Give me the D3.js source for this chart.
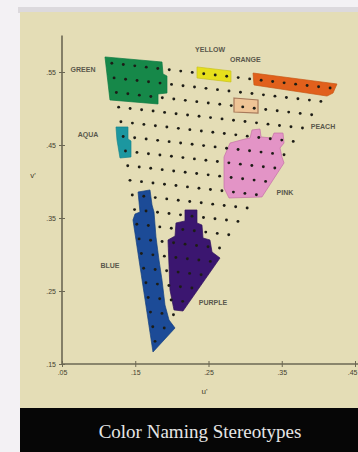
<!DOCTYPE html>
<html>
<head>
<meta charset="utf-8">
<script src="https://cdn.jsdelivr.net/npm/d3@7/dist/d3.min.js"></script>
<style>
  html, body { margin: 0; padding: 0; background: #f3f1f4; }
  svg { display: block; }
</style>
</head>
<body>
<svg id="chart" width="358" height="452"></svg>
<script>
// axis ticks (u', v' chromaticity)
const uTicks = [0.05, 0.15, 0.25, 0.35, 0.45];
const vTicks = [0.15, 0.25, 0.35, 0.45, 0.55];

// monitor primaries in u'v' (corners of the sampled triangle)
const greenPrimary = [0.118, 0.562];
const redPrimary = [0.416, 0.528];
const bluePrimary = [0.177, 0.181];
// the samples form a regular lattice inside the triangle, 19 steps per side
const latticeSteps = 19;

// named regions, outlines in u'v'
const regionNames = ['GREEN', 'YELLOW', 'ORANGE', 'PEACH', 'AQUA', 'PINK', 'BLUE', 'PURPLE'];
const greenArea = [[0.1087, 0.5706], [0.1865, 0.5637], [0.1879, 0.5473], [0.1933, 0.5445], [0.1933, 0.5212],
  [0.1811, 0.5199], [0.1811, 0.5062], [0.1155, 0.5117]];
const yellowArea = [[0.2343, 0.5569], [0.2807, 0.5514], [0.2807, 0.5363], [0.2343, 0.5418]];
const orangeArea = [[0.3108, 0.5486], [0.4254, 0.5336], [0.4200, 0.5212], [0.4118, 0.5171], [0.3121, 0.5322]];
const peachArea = [[0.2848, 0.5144], [0.3176, 0.5117], [0.3176, 0.4938], [0.2848, 0.4952]];
const aquaArea = [[0.1237, 0.4747], [0.1401, 0.4747], [0.1401, 0.4582], [0.1442, 0.4555], [0.1442, 0.4336],
  [0.1292, 0.4322], [0.1251, 0.4569]];
const pinkArea = [[0.2753, 0.4432], [0.2794, 0.4527], [0.2998, 0.4582], [0.3067, 0.4596], [0.3094, 0.4706],
  [0.3203, 0.4719], [0.3217, 0.4610], [0.3367, 0.4596], [0.3394, 0.4664], [0.3517, 0.4664], [0.3531, 0.4527],
  [0.3476, 0.4459], [0.3503, 0.4336], [0.3531, 0.4254], [0.3230, 0.3788], [0.2780, 0.3774], [0.2712, 0.3911],
  [0.2712, 0.4336]];
const blueArea = [[0.1538, 0.3856], [0.1701, 0.3884], [0.1729, 0.3678], [0.1756, 0.3582], [0.1783, 0.3240],
  [0.1824, 0.2925], [0.1865, 0.2651], [0.1906, 0.2308], [0.1961, 0.2103], [0.2043, 0.1993], [0.1742, 0.1664],
  [0.1469, 0.3473], [0.1497, 0.3555], [0.1565, 0.3582]];
const purpleArea = [[0.2179, 0.3610], [0.2343, 0.3610], [0.2343, 0.3432], [0.2411, 0.3404], [0.2425, 0.3226],
  [0.2520, 0.3199], [0.2548, 0.3034], [0.2657, 0.2952], [0.2152, 0.2226], [0.2029, 0.2240], [0.1974, 0.2514],
  [0.1947, 0.3199], [0.2043, 0.3253], [0.2056, 0.3432], [0.2179, 0.3459]];
const regionAreas = [greenArea, yellowArea, orangeArea, peachArea, aquaArea, pinkArea, blueArea, purpleArea];

// where each name is written, u'v'
const labelAt = [[0.0787, 0.5528], [0.2521, 0.5802], [0.3003, 0.5678], [0.4063, 0.4747],
  [0.0855, 0.4637], [0.3544, 0.3856], [0.1155, 0.2856], [0.2561, 0.2336]];

const caption = 'Color Naming Stereotypes';

// fills for the regions
const fills = {
  GREEN: '#13884a', YELLOW: '#e6df1e', ORANGE: '#e1611a', PEACH: '#efc496',
  AQUA: '#1b97a0', PINK: '#e394c6', BLUE: '#1a4b97', PURPLE: '#3a176f'
};
const strokes = {
  GREEN: '#117a42', YELLOW: '#c9c21c', ORANGE: '#c75516', PEACH: '#a7795a',
  AQUA: '#17858c', PINK: '#c470a6', BLUE: '#163f80', PURPLE: '#30125d'
};

const width = 358;
const height = 452;
const svg = d3.select('#chart');

// soft focus, like the photographed slide
const defs = svg.append('defs');
defs.append('filter').attr('id', 'soft')
  .append('feGaussianBlur').attr('stdDeviation', 0.45);

// photo frame: pale edge, beige plate, black caption band
svg.append('rect').attr('width', width).attr('height', height).attr('fill', '#f3f1f4');
svg.append('rect').attr('x', 18).attr('y', 7).attr('width', width - 18).attr('height', 6).attr('fill', '#dcd9dd');
svg.append('rect').attr('x', 20).attr('y', 12).attr('width', width - 20).attr('height', 396).attr('fill', '#e4ddb6');
svg.append('rect').attr('x', 20).attr('y', 408).attr('width', width - 20).attr('height', 44).attr('fill', '#060606');

const x = d3.scaleLinear().domain([0.05, 0.45]).range([62, 355]);
const y = d3.scaleLinear().domain([0.15, 0.55]).range([364, 72]);

const axisColor = '#6b6753';
const labelFont = 'Liberation Sans, Arial, sans-serif';
const tickFmt = d => d3.format('.2f')(d).replace(/^0/, '');

// y axis
const yAxis = svg.append('g')
  .attr('transform', `translate(${x(0.05)},0)`)
  .call(d3.axisLeft(y).tickValues(vTicks).tickSize(3).tickPadding(3).tickFormat(tickFmt));
yAxis.select('.domain').remove();
yAxis.selectAll('.tick line').attr('x1', 3).attr('stroke', axisColor);
yAxis.selectAll('.tick text').style('font-family', labelFont)
  .style('font-size', '7px').attr('fill', '#45422f');
svg.append('line')
  .attr('x1', x(0.05)).attr('x2', x(0.05))
  .attr('y1', y(0.15)).attr('y2', y(0.6))
  .attr('stroke', axisColor).attr('stroke-width', 1.6);

// x axis
const xAxis = svg.append('g')
  .attr('transform', `translate(0,${y(0.15)})`)
  .call(d3.axisBottom(x).tickValues(uTicks).tickSize(3).tickPadding(3).tickFormat(tickFmt));
xAxis.select('.domain').remove();
xAxis.selectAll('.tick line').attr('y1', -3).attr('stroke', axisColor);
xAxis.selectAll('.tick text').style('font-family', labelFont)
  .style('font-size', '7px').attr('fill', '#45422f');
// last label sits at the plate edge: keep it inside
xAxis.selectAll('.tick text').filter(d => d === uTicks[uTicks.length - 1])
  .attr('text-anchor', 'end').attr('dx', 2);
svg.append('line')
  .attr('x1', x(0.05)).attr('x2', x(0.47))
  .attr('y1', y(0.15)).attr('y2', y(0.15))
  .attr('stroke', axisColor).attr('stroke-width', 1.6);

// axis titles
svg.append('text').attr('x', 33).attr('y', y(0.405))
  .attr('text-anchor', 'middle')
  .style('font-family', labelFont).style('font-size', '8px')
  .attr('fill', '#45422f').text("v'");
svg.append('text').attr('x', x(0.25) - 4).attr('y', 394)
  .attr('text-anchor', 'middle')
  .style('font-family', labelFont).style('font-size', '8px')
  .attr('fill', '#45422f').text("u'");

// colour regions
const outline = d3.line()
  .x(d => x(d[0]))
  .y(d => y(d[1]))
  .curve(d3.curveLinearClosed);

const plot = svg.append('g').attr('filter', 'url(#soft)');

plot.append('g').selectAll('path')
  .data(regionNames)
  .enter()
  .append('path')
  .attr('d', (d, i) => outline(regionAreas[i]))
  .attr('fill', d => fills[d])
  .attr('stroke', d => strokes[d])
  .attr('stroke-width', d => d === 'PEACH' ? 1.2 : 0.7);

// sample lattice: every point is a mix of the three primaries
const samples = [];
for (let k = 0; k <= latticeSteps; k++) {
  for (let j = 0; j <= latticeSteps - k; j++) {
    const a = k / latticeSteps, b = j / latticeSteps;
    samples.push([
      greenPrimary[0] + a * (bluePrimary[0] - greenPrimary[0]) + b * (redPrimary[0] - greenPrimary[0]),
      greenPrimary[1] + a * (bluePrimary[1] - greenPrimary[1]) + b * (redPrimary[1] - greenPrimary[1])
    ]);
  }
}

plot.append('g').selectAll('circle')
  .data(samples)
  .enter()
  .append('circle')
  .attr('cx', d => x(d[0]))
  .attr('cy', d => y(d[1]))
  .attr('r', 1.45)
  .attr('fill', '#1f1e18');

// region names
svg.append('g').selectAll('text')
  .data(regionNames)
  .enter()
  .append('text')
  .attr('x', (d, i) => x(labelAt[i][0]))
  .attr('y', (d, i) => y(labelAt[i][1]) + 2.5)
  .attr('text-anchor', 'middle')
  .style('font-family', labelFont)
  .style('font-size', '7px')
  .style('font-weight', 'bold')
  .attr('fill', '#5a584c')
  .text(d => d);

// caption band
svg.append('text')
  .attr('x', 200).attr('y', 438)
  .attr('text-anchor', 'middle')
  .style('font-family', 'Liberation Serif, Times New Roman, serif')
  .style('font-size', '19px')
  .attr('fill', '#e6e6e6')
  .text(caption);
</script>
</body>
</html>
